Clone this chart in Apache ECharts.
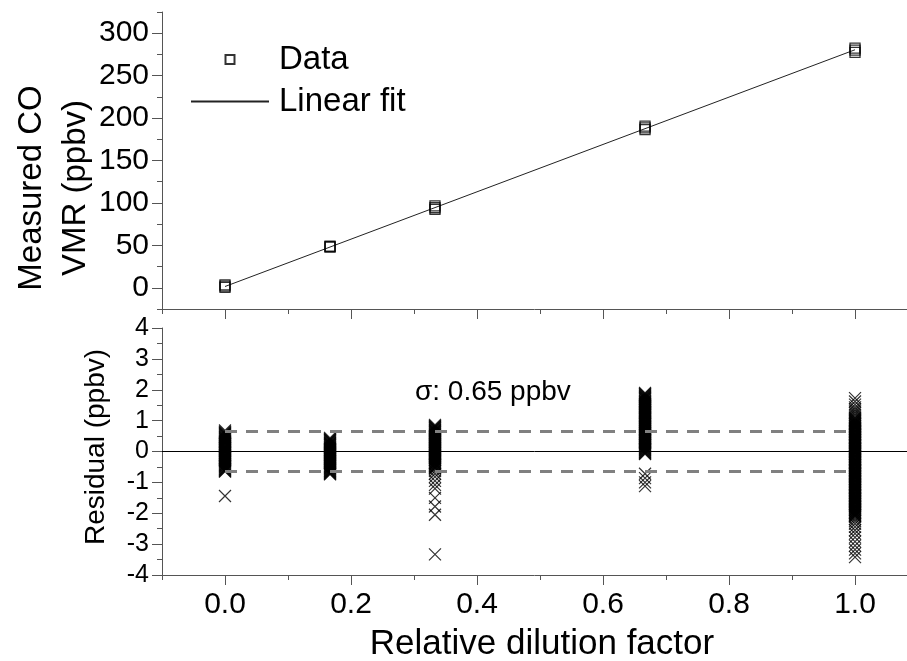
<!DOCTYPE html>
<html>
<head>
<meta charset="utf-8">
<script src="https://cdn.jsdelivr.net/npm/echarts@6/dist/echarts.min.js"></script>
<style>
html,body{margin:0;padding:0;background:#fff}
#main{width:907px;height:661px}
</style>
</head>
<body>
<div id="main"></div>
<script>
// dilution steps and measured CO (several readings per step)
var dilution = [0, 0.1667, 0.3333, 0.6667, 1.0];
var measuredCO = [
  [0.5, 2, 3.5],
  [47.8, 48.4, 49],
  [92.5, 94.3, 96.5],
  [186.5, 188.5, 190.5],
  [277.5, 280, 282.5]
];
var fitX = [0, 1];
var fitY = [1.5, 280.5];

// residuals per dilution step
var res0 = [-1.44, -0.65, -0.63, -0.61, -0.59, -0.57, -0.55, -0.52, -0.5, -0.48, -0.46, -0.44, -0.42, -0.4, -0.37, -0.35, -0.33, -0.31, -0.29, -0.27, -0.25, -0.22, -0.2, -0.18, -0.16, -0.14, -0.12, -0.1, -0.07, -0.05, -0.03, -0.01, 0.01, 0.03, 0.05, 0.08, 0.1, 0.12, 0.14, 0.16, 0.18, 0.2, 0.23, 0.25, 0.27, 0.29, 0.31, 0.33, 0.35, 0.38, 0.4, 0.42, 0.44, 0.46, 0.48, 0.5, 0.53, 0.55, 0.57, 0.59, 0.61, 0.64, 0.68];
var res1 = [-0.74, -0.72, -0.7, -0.68, -0.66, -0.64, -0.62, -0.6, -0.57, -0.55, -0.53, -0.51, -0.49, -0.47, -0.45, -0.42, -0.4, -0.38, -0.36, -0.34, -0.32, -0.3, -0.27, -0.25, -0.23, -0.21, -0.19, -0.17, -0.15, -0.12, -0.1, -0.08, -0.06, -0.04, -0.02, 0.0, 0.03, 0.05, 0.07, 0.09, 0.11, 0.13, 0.15, 0.18, 0.2, 0.22, 0.24, 0.26, 0.28, 0.3, 0.33, 0.35, 0.37, 0.39, 0.41, 0.44];
var res2 = [-3.33, -2.05, -1.78, -1.5, -1.2, -1.08, -0.95, -0.82, -0.72, -0.63, -0.56, -0.54, -0.52, -0.5, -0.48, -0.45, -0.43, -0.41, -0.39, -0.37, -0.35, -0.33, -0.3, -0.28, -0.26, -0.24, -0.22, -0.2, -0.18, -0.15, -0.13, -0.11, -0.09, -0.07, -0.05, -0.03, 0.0, 0.02, 0.04, 0.06, 0.08, 0.1, 0.12, 0.15, 0.17, 0.19, 0.21, 0.23, 0.25, 0.27, 0.3, 0.32, 0.34, 0.36, 0.38, 0.4, 0.42, 0.45, 0.47, 0.49, 0.51, 0.53, 0.55, 0.57, 0.6, 0.62, 0.64, 0.66, 0.68, 0.7, 0.72, 0.75, 0.77, 0.79, 0.81, 0.83, 0.86];
var res3 = [-1.12, -1.0, -0.86, -0.72, -0.08, -0.06, -0.04, -0.02, 0.0, 0.03, 0.05, 0.07, 0.09, 0.11, 0.13, 0.15, 0.18, 0.2, 0.22, 0.24, 0.26, 0.28, 0.3, 0.33, 0.35, 0.37, 0.39, 0.41, 0.43, 0.45, 0.48, 0.5, 0.52, 0.54, 0.56, 0.58, 0.6, 0.63, 0.65, 0.67, 0.69, 0.71, 0.73, 0.75, 0.78, 0.8, 0.82, 0.84, 0.86, 0.88, 0.9, 0.93, 0.95, 0.97, 0.99, 1.01, 1.03, 1.05, 1.08, 1.1, 1.12, 1.14, 1.16, 1.18, 1.2, 1.23, 1.25, 1.27, 1.29, 1.31, 1.33, 1.35, 1.38, 1.4, 1.42, 1.44, 1.46, 1.48, 1.5, 1.53, 1.55, 1.57, 1.59, 1.61, 1.63, 1.65, 1.68, 1.7, 1.72, 1.74, 1.76, 1.78, 1.8, 1.83, 1.85, 1.87, 1.9];
var res4 = [-3.42, -3.3, -3.18, -3.05, -2.92, -2.78, -2.66, -2.55, -2.44, -2.34, -2.25, -2.18, -2.12, -2.09, -2.07, -2.05, -2.03, -2.0, -1.98, -1.96, -1.94, -1.91, -1.89, -1.87, -1.85, -1.82, -1.8, -1.78, -1.76, -1.73, -1.71, -1.69, -1.67, -1.64, -1.62, -1.6, -1.58, -1.55, -1.53, -1.51, -1.49, -1.46, -1.44, -1.42, -1.4, -1.37, -1.35, -1.33, -1.31, -1.28, -1.26, -1.24, -1.22, -1.19, -1.17, -1.15, -1.13, -1.1, -1.08, -1.06, -1.04, -1.01, -0.99, -0.97, -0.95, -0.92, -0.9, -0.88, -0.86, -0.83, -0.81, -0.79, -0.77, -0.74, -0.72, -0.7, -0.68, -0.65, -0.63, -0.61, -0.59, -0.56, -0.54, -0.52, -0.5, -0.47, -0.45, -0.43, -0.41, -0.38, -0.36, -0.34, -0.32, -0.29, -0.27, -0.25, -0.23, -0.2, -0.18, -0.16, -0.14, -0.11, -0.09, -0.07, -0.05, -0.02, 0.0, 0.02, 0.04, 0.07, 0.09, 0.11, 0.13, 0.16, 0.18, 0.2, 0.22, 0.25, 0.27, 0.29, 0.31, 0.34, 0.36, 0.38, 0.4, 0.43, 0.45, 0.47, 0.49, 0.52, 0.54, 0.56, 0.58, 0.61, 0.63, 0.65, 0.67, 0.7, 0.72, 0.74, 0.76, 0.79, 0.81, 0.83, 0.85, 0.88, 0.9, 0.92, 0.94, 0.97, 0.99, 1.01, 1.03, 1.06, 1.08, 1.12, 1.18, 1.24, 1.3, 1.36, 1.43, 1.52, 1.62, 1.73];
var residuals = [res0, res1, res2, res3, res4];
var sigma = 0.65;

// tick positions
var xMajor = [0, 0.2, 0.4, 0.6, 0.8, 1.0];
var xMinor = [-0.1, 0.1, 0.3, 0.5, 0.7, 0.9];
var coMajor = [0, 50, 100, 150, 200, 250, 300];
var coMinor = [-25, 25, 75, 125, 175, 225, 275, 325];

var FONT = 'Liberation Sans, Arial, sans-serif';
var AX = '#555';

var coData = [];
for (var i = 0; i < dilution.length; i++) {
  for (var j = 0; j < measuredCO[i].length; j++) coData.push([dilution[i], measuredCO[i][j]]);
}
var fitData = fitX.map(function (x, k) { return [x, fitY[k]]; });
var resData = [];
for (var i = 0; i < dilution.length; i++) {
  for (var j = 0; j < residuals[i].length; j++) resData.push([dilution[i], residuals[i][j]]);
}

function xAxisCfg(grid, ticks, len, labels) {
  return {
    type: 'value', gridIndex: grid, min: -0.1, max: 1.0825, position: 'bottom',
    splitLine: {show: false},
    axisLine: {show: ticks === xMajor, onZero: false, lineStyle: {color: AX, width: 1}},
    axisTick: {show: true, length: len, customValues: ticks, lineStyle: {color: AX}},
    axisLabel: labels ? {
      show: true, customValues: xMajor, margin: 15, color: '#000', fontSize: 30, fontFamily: FONT,
      formatter: function (v) { return v.toFixed(1); }
    } : {show: false}
  };
}

var chart = echarts.init(document.getElementById('main'));
var option = {
  animation: false,
  backgroundColor: '#fff',
  grid: [
    {left: 162, top: 12, height: 297, right: 0},
    {left: 162, top: 328, height: 247, right: 0}
  ],
  xAxis: [
    xAxisCfg(0, xMajor, 10, false),
    xAxisCfg(0, xMinor, 5, false),
    xAxisCfg(1, xMajor, 10, true),
    xAxisCfg(1, xMinor, 5, false)
  ],
  yAxis: [
    {
      type: 'value', gridIndex: 0, min: -25, max: 325, position: 'left',
      splitLine: {show: false},
      axisLine: {show: true, onZero: false, lineStyle: {color: AX}},
      axisTick: {length: 10, customValues: coMajor, lineStyle: {color: AX}},
      axisLabel: {customValues: coMajor, margin: 13, color: '#000', fontSize: 30, fontFamily: FONT}
    },
    {
      type: 'value', gridIndex: 0, min: -25, max: 325, position: 'left',
      splitLine: {show: false},
      axisLine: {show: false, onZero: false},
      axisTick: {length: 5, customValues: coMinor, lineStyle: {color: AX}},
      axisLabel: {show: false}
    },
    {
      type: 'value', gridIndex: 1, min: -4, max: 4, interval: 1, position: 'left',
      splitLine: {show: false},
      axisLine: {show: true, onZero: false, lineStyle: {color: AX}},
      axisTick: {length: 10, lineStyle: {color: AX}},
      minorTick: {show: true, splitNumber: 2, length: 5, lineStyle: {color: AX}},
      axisLabel: {margin: 13, color: '#000', fontSize: 25, fontFamily: FONT}
    }
  ],
  legend: {
    data: [
      {name: 'Data', icon: 'path://M0,0M78,10M34.5,0.5L43.5,0.5L43.5,9.5L34.5,9.5Z'},
      {name: 'Linear fit'}
    ],
    orient: 'vertical', left: 185, top: 38,
    itemWidth: 78, itemHeight: 10, itemGap: 9,
    selectedMode: false,
    textStyle: {fontSize: 33, fontFamily: FONT, color: '#000', padding: [0, 0, 0, 5]}
  },
  series: [
    {
      name: 'Data', type: 'scatter', xAxisIndex: 0, yAxisIndex: 0,
      symbol: 'rect', symbolSize: 10, data: coData, z: 3,
      itemStyle: {color: 'rgba(255,255,255,0)', borderColor: '#000', borderWidth: 1.3}
    },
    {
      name: 'Linear fit', type: 'line', xAxisIndex: 0, yAxisIndex: 0,
      symbol: 'none', data: fitData, z: 2,
      itemStyle: {color: 'rgba(0,0,0,0)'},
      lineStyle: {color: '#222', width: 1}
    },
    {
      name: 'Residual', type: 'scatter', xAxisIndex: 2, yAxisIndex: 2,
      symbol: 'path://M0,0L10,10M10,0L0,10', symbolSize: 12, data: resData, z: 2,
      itemStyle: {color: 'rgba(0,0,0,0)', borderColor: '#000', borderWidth: 1.2},
      markLine: {
        silent: true, symbol: 'none', label: {show: false},
        lineStyle: {color: '#000', width: 1, type: 'solid'},
        data: [{yAxis: 0}]
      }
    },
    {
      name: 'sigma+', type: 'line', xAxisIndex: 2, yAxisIndex: 2,
      symbol: 'none', data: [[0, sigma], [1, sigma]], z: 4,
      lineStyle: {color: '#808080', width: 3, type: [12, 9]}
    },
    {
      name: 'sigma-', type: 'line', xAxisIndex: 2, yAxisIndex: 2,
      symbol: 'none', data: [[0, -sigma], [1, -sigma]], z: 4,
      lineStyle: {color: '#808080', width: 3, type: [12, 9]}
    }
  ],
  graphic: [
    {type: 'text', x: 32, y: 188, rotation: Math.PI / 2,
      style: {text: 'Measured CO', fontSize: 33, fontFamily: FONT, fill: '#000', align: 'center', verticalAlign: 'middle'}},
    {type: 'text', x: 76, y: 188, rotation: Math.PI / 2,
      style: {text: 'VMR (ppbv)', fontSize: 33, fontFamily: FONT, fill: '#000', align: 'center', verticalAlign: 'middle'}},
    {type: 'text', x: 96, y: 447, rotation: Math.PI / 2,
      style: {text: 'Residual (ppbv)', fontSize: 28, fontFamily: FONT, fill: '#000', align: 'center', verticalAlign: 'middle'}},
    {type: 'text', x: 542, y: 644,
      style: {text: 'Relative dilution factor', fontSize: 35, fontFamily: FONT, fill: '#000', align: 'center', verticalAlign: 'middle'}},
    {type: 'text', x: 415, y: 392,
      style: {text: 'σ: 0.65 ppbv', fontSize: 28, fontFamily: FONT, fill: '#000', align: 'left', verticalAlign: 'middle'}}
  ]
};
chart.setOption(option);
</script>
</body>
</html>
